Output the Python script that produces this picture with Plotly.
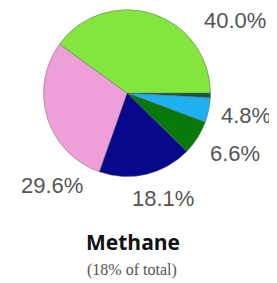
import plotly.graph_objects as go

categories = ["A", "B", "C", "D", "E", "F"]
values = [40.0, 29.6, 18.1, 6.6, 4.8, 0.9]
labels_shown = [True, True, True, True, True, False]
colors = ["#82E63E", "#EE9FD8", "#08088C", "#087808", "#1EB0F0", "#0E5A3E"]
title = "Methane"
subtitle = "(18% of total)"

# label text positions (paper coordinates)
label_pos = {
    "A": (0.844, 0.954),
    "B": (0.164, 0.356),
    "C": (0.576, 0.309),
    "D": (0.844, 0.471),
    "E": (0.885, 0.609),
}

# counterclockwise from 3 o'clock == clockwise order reversed
fig = go.Figure(go.Pie(
    labels=categories[::-1],
    values=values[::-1],
    sort=False,
    direction="clockwise",
    rotation=90,
    marker=dict(colors=colors[::-1], line=dict(color="rgba(90,90,90,0.45)", width=1)),
    textinfo="none",
    hoverinfo="none",
    showlegend=False,
    domain=dict(x=[0.132, 0.753], y=[0.387, 0.994]),
))

for c, v, show in zip(categories, values, labels_shown):
    if not show:
        continue
    x, y = label_pos[c]
    fig.add_annotation(x=x, y=y, xref="paper", yref="paper", text=f"{v:.1f}%",
                       showarrow=False, xanchor="center", yanchor="middle",
                       font=dict(family="Liberation Sans, Arial", size=22, color="#555555"))

fig.add_annotation(x=0.463, y=0.149, xref="paper", yref="paper", text=f"<b>{title}</b>",
                   showarrow=False, xanchor="center", yanchor="middle",
                   font=dict(family="Open Sans", size=21, color="#111111"))
fig.add_annotation(x=0.461, y=0.047, xref="paper", yref="paper", text=subtitle,
                   showarrow=False, xanchor="center", yanchor="middle",
                   font=dict(family="Liberation Serif", size=16, color="#555555"))

fig.update_layout(width=269, height=275, margin=dict(l=0, r=0, t=0, b=0),
                  paper_bgcolor="white", plot_bgcolor="white")
fig.write_html("out.html")
